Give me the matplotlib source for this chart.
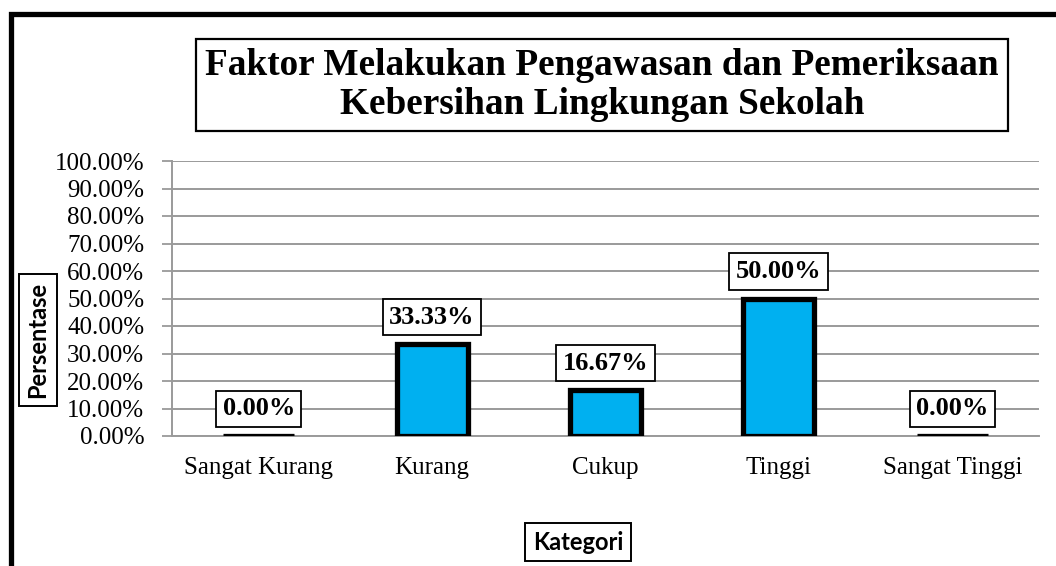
import matplotlib
matplotlib.use("Agg")
import matplotlib.pyplot as plt
from matplotlib.patches import Rectangle

categories = ["Sangat Kurang", "Kurang", "Cukup", "Tinggi", "Sangat Tinggi"]
values = [0.0, 33.33, 16.67, 50.0, 0.0]
yticks = [0, 10, 20, 30, 40, 50, 60, 70, 80, 90, 100]
title = "Faktor Melakukan Pengawasan dan Pemeriksaan\nKebersihan Lingkungan Sekolah"

W, H = 1056, 566
fig = plt.figure(figsize=(W / 100, H / 100), dpi=100)
fig.patch.set_facecolor("white")

# outer chart border (only left/top visible)
fig.patches.append(Rectangle((10.5 / W, -0.2), 1.3, 1.2 - 13.5 / H,
                             transform=fig.transFigure, fill=False,
                             edgecolor="black", linewidth=3.8, zorder=0))

ax = fig.add_axes([172 / W, 1 - 436 / H, (1039 - 172) / W, (436 - 161) / H])
x = list(range(len(categories)))
ax.bar(x, values, width=0.41, color="#00B0F0", edgecolor="black",
       linewidth=3.8, zorder=3)
ax.set_xlim(-0.5, len(categories) - 0.5)
ax.set_ylim(0, 100)
ax.set_yticks(yticks)
ax.set_yticklabels([f"{v:.2f}%" for v in yticks], fontfamily="Liberation Serif",
                   fontsize=18)
ax.set_xticks(x)
ax.set_xticklabels(categories, fontfamily="Liberation Serif", fontsize=18)
ax.tick_params(axis="y", length=7, width=1.3, color="#9a9a9a", pad=13)
ax.tick_params(axis="x", length=0, pad=15)
ax.grid(axis="y", color="#9a9a9a", linewidth=1.4, zorder=0)
for s in ["top", "right"]:
    ax.spines[s].set_visible(False)
ax.spines["left"].set_color("#9a9a9a")
ax.spines["left"].set_linewidth(1.4)
ax.spines["bottom"].set_color("#9a9a9a")
ax.spines["bottom"].set_linewidth(1.4)

for xi, v in zip(x, values):
    ax.annotate(f"{v:.2f}%", (xi, v), xytext=(0, 19.5), textcoords="offset points",
                ha="center", va="center", fontfamily="Liberation Serif",
                fontweight="bold", fontsize=19, zorder=5,
                bbox=dict(boxstyle="square,pad=0.25", fc="white", ec="black", lw=1.3))

fig.text(602 / W, 1 - 85 / H, title, ha="center", va="center",
         fontfamily="Liberation Serif", fontweight="bold", fontsize=26.8,
         linespacing=1.13,
         bbox=dict(boxstyle="square,pad=0.24", fc="white", ec="black", lw=1.6))

fig.text(38 / W, 1 - 340 / H, "Persentase", rotation=90, ha="center", va="center",
         fontfamily="Lato", fontweight="bold", fontsize=17,
         bbox=dict(boxstyle="square,pad=0.32", fc="white", ec="black", lw=1.4))

fig.text(578 / W, 1 - 542 / H, "Kategori", ha="center", va="center",
         fontfamily="Lato", fontweight="bold", fontsize=17,
         bbox=dict(boxstyle="square,pad=0.32", fc="white", ec="black", lw=1.4))

fig.savefig("out.png", dpi=100)
